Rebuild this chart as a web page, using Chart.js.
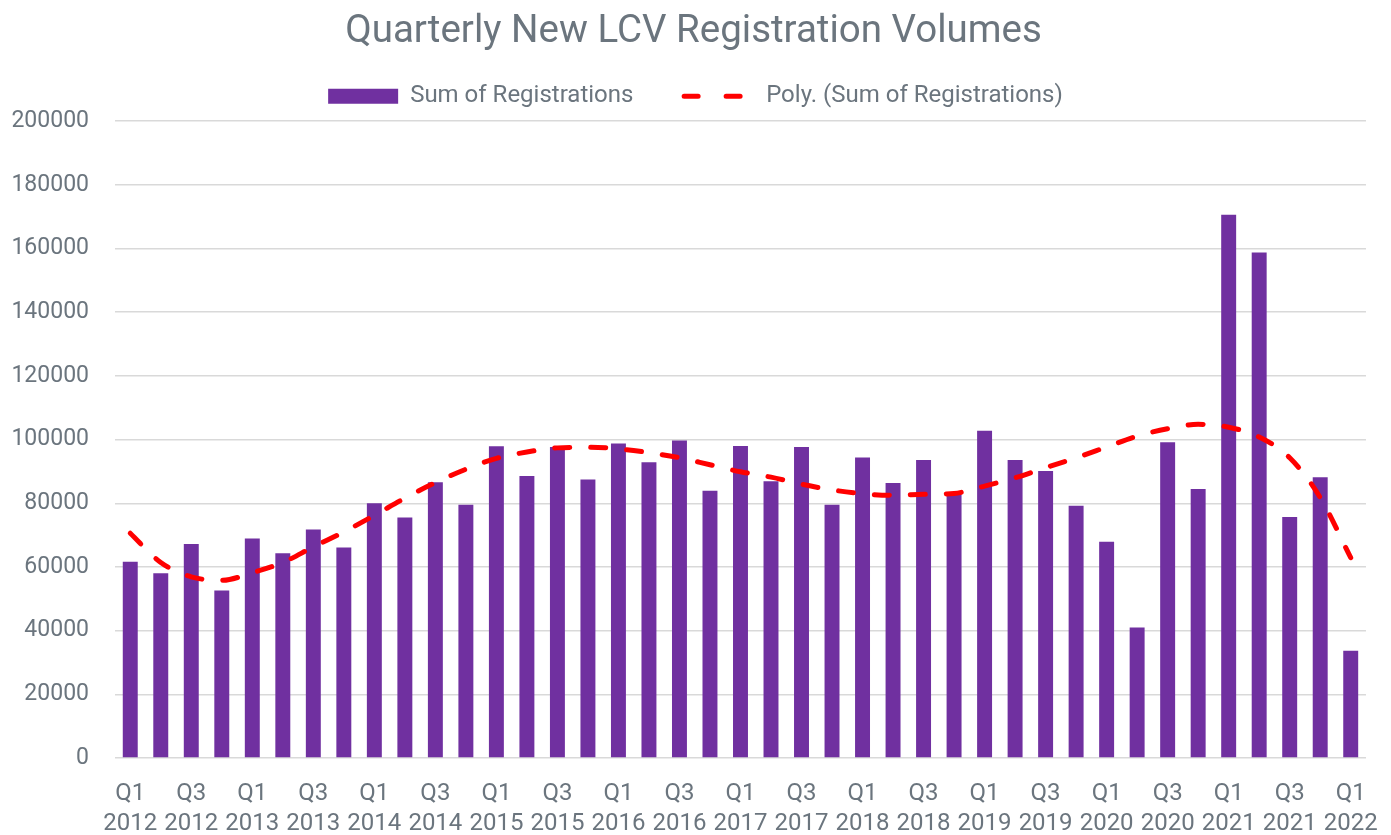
<!DOCTYPE html>
<html>
<head>
<meta charset="utf-8">
<script src="https://cdn.jsdelivr.net/npm/chart.js@4"></script>
<style>
  body { margin: 0; background: #fff; }
  canvas { display: block; }
</style>
</head>
<body>
<canvas id="myChart" width="1391" height="835"></canvas>
<script>
// quarters shown on the x axis
var quarterLabels = [
  'Q1 2012', 'Q2 2012', 'Q3 2012', 'Q4 2012',
  'Q1 2013', 'Q2 2013', 'Q3 2013', 'Q4 2013',
  'Q1 2014', 'Q2 2014', 'Q3 2014', 'Q4 2014',
  'Q1 2015', 'Q2 2015', 'Q3 2015', 'Q4 2015',
  'Q1 2016', 'Q2 2016', 'Q3 2016', 'Q4 2016',
  'Q1 2017', 'Q2 2017', 'Q3 2017', 'Q4 2017',
  'Q1 2018', 'Q2 2018', 'Q3 2018', 'Q4 2018',
  'Q1 2019', 'Q2 2019', 'Q3 2019', 'Q4 2019',
  'Q1 2020', 'Q2 2020', 'Q3 2020', 'Q4 2020',
  'Q1 2021', 'Q2 2021', 'Q3 2021', 'Q4 2021',
  'Q1 2022'
];

// sum of registrations per quarter
var registrations = [
  61600, 58000, 67200, 52600, 68900, 64300, 71800, 66100, 80000, 75500,
  86600, 79500, 97900, 88600, 97700, 87500, 98800, 92900, 99700, 83900,
  98000, 86900, 97700, 79500, 94400, 86400, 93600, 83100, 102800, 93600,
  90100, 79200, 67900, 41000, 99200, 84500, 170600, 158800, 75700, 88200,
  33700
];

// polynomial trendline
var trend = [
  70600, 61400, 56900, 55800, 58200, 61400, 66300, 71000, 76200, 81600,
  86500, 90700, 94100, 96100, 97400, 97600, 97100, 95900, 94300, 92100,
  89900, 88200, 86000, 84200, 83000, 82500, 82800, 83100, 85400, 88000,
  91200, 94300, 97700, 101100, 103400, 104800, 103900, 100800, 94300, 81800,
  62900
];

var yTicks = { min: 0, max: 200000, step: 20000 };

var textColor = '#6b757e';
var fontFamily = 'Roboto, "Open Sans", sans-serif';

// legend entries: dashed line needs its dash copied over
function legendLabels(chart) {
  var items = Chart.defaults.plugins.legend.labels.generateLabels(chart);
  items.forEach(function(item) {
    var ds = chart.data.datasets[item.datasetIndex];
    if (ds.type === 'line') {
      item.lineDash = [14, 28];
      item.lineCap = 'round';
      item.lineWidth = 5;
      item.strokeStyle = ds.borderColor;
    } else {
      // extra room before the next entry
      item.text = item.text + '      ';
    }
  });
  items.sort(function(a, b) { return a.datasetIndex - b.datasetIndex; });
  return items;
}

// nudge title and legend, and leave a bit more room under the legend
function shiftDraw(box, dx) {
  var draw = box.draw;
  box.draw = function() {
    var c = this.ctx;
    c.save();
    c.translate(dx, 0);
    draw.apply(this, arguments);
    c.restore();
  };
}
var headerTweaks = {
  id: 'headerTweaks',
  afterInit: function(chart) {
    var fit = chart.legend.fit;
    chart.legend.fit = function() {
      fit.call(this);
      this.height += 3;
    };
    shiftDraw(chart.legend, 8);
    shiftDraw(chart.titleBlock, 6);
  }
};

var ctx = document.getElementById('myChart').getContext('2d');
var chart = new Chart(ctx, {
  type: 'bar',
  data: {
    labels: quarterLabels,
    datasets: [{
      label: 'Sum of Registrations',
      data: registrations,
      backgroundColor: '#7030a0',
      categoryPercentage: 0.5,
      barPercentage: 0.98,
      order: 2,
      pointStyle: 'rect'
    }, {
      type: 'line',
      label: 'Poly. (Sum of Registrations)',
      data: trend,
      borderColor: '#ff0000',
      backgroundColor: '#ff0000',
      borderWidth: 5,
      borderDash: [15, 21],
      borderCapStyle: 'round',
      pointRadius: 0,
      cubicInterpolationMode: 'monotone',
      fill: false,
      order: 1,
      pointStyle: 'line'
    }]
  },
  plugins: [headerTweaks],
  options: {
    responsive: false,
    animation: false,
    layout: {
      padding: { left: 9, right: 25, top: 0, bottom: -17 }
    },
    plugins: {
      title: {
        display: true,
        text: 'Quarterly New LCV Registration Volumes',
        color: textColor,
        font: { family: fontFamily, size: 38.5, weight: 'normal' },
        padding: { top: 9, bottom: 14 }
      },
      legend: {
        position: 'top',
        labels: {
          color: textColor,
          font: { family: fontFamily, size: 24 },
          usePointStyle: true,
          pointStyleWidth: 70,
          boxHeight: 15,
          padding: 15,
          generateLabels: legendLabels
        }
      },
      tooltip: { enabled: false }
    },
    scales: {
      x: {
        grid: { display: false },
        border: { display: false },
        ticks: {
          color: textColor,
          font: { family: fontFamily, size: 24, lineHeight: 1.25 },
          autoSkip: false,
          maxRotation: 0,
          padding: 13,
          callback: function(val, i) {
            if (i % 2 !== 0) return '';
            return quarterLabels[i].split(' ');
          }
        }
      },
      y: {
        min: yTicks.min,
        max: yTicks.max,
        border: { display: false },
        grid: { color: '#d9d9d9', lineWidth: 1.5, drawTicks: false },
        ticks: {
          stepSize: yTicks.step,
          color: textColor,
          font: { family: fontFamily, size: 23 },
          padding: 26,
          callback: function(val) { return String(val); }
        },
        afterFit: function(scale) {
          scale.width = 106;
        }
      }
    }
  }
});
</script>
</body>
</html>
